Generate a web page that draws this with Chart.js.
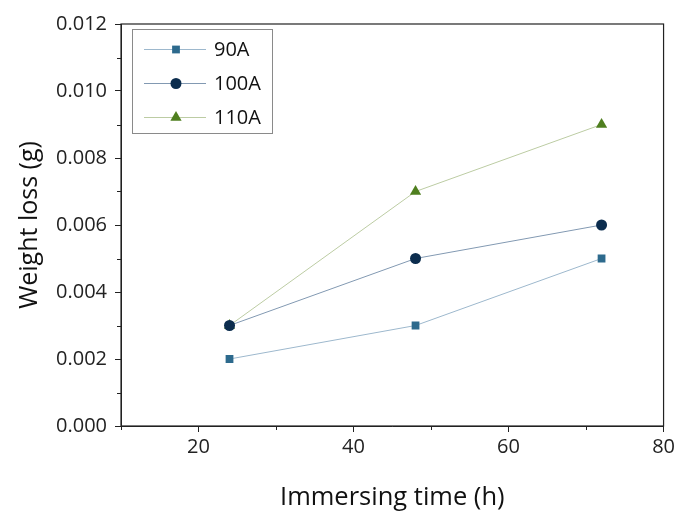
<!DOCTYPE html>
<html lang="en">
<head>
  <meta charset="UTF-8">
  <title>Weight loss vs immersing time</title>
  <script src="https://cdn.jsdelivr.net/npm/chart.js"></script>
  <style>
    html, body { margin: 0; padding: 0; background: #fff; }
    #wrap { width: 678px; height: 513px; }
  </style>
</head>
<body>
  <div id="wrap"><canvas id="grafico" width="678" height="513"></canvas></div>

  <script>
    // dados
    const tempo = [24, 48, 72];
    const perda90A = [0.002, 0.003, 0.005];
    const perda100A = [0.003, 0.005, 0.006];
    const perda110A = [0.003, 0.007, 0.009];
    const xMajor = [20, 40, 60, 80];
    const xMinor = [10, 30, 50, 70];
    const yMajor = [0, 0.002, 0.004, 0.006, 0.008, 0.010, 0.012];
    const yMinor = [0.001, 0.003, 0.005, 0.007, 0.009, 0.011];

    const fonte = "'Open Sans', 'Noto Sans', sans-serif";

    function pontos(ys) {
      return tempo.map((t, i) => ({ x: t, y: ys[i] }));
    }

    const series = [
      { label: '90A', data: perda90A, line: '#9db8cd', mark: '#2d6a8d', style: 'rect', r: 5.5 },
      { label: '100A', data: perda100A, line: '#8299b2', mark: '#0c2d4e', style: 'circle', r: 5.5 },
      { label: '110A', data: perda110A, line: '#bccca3', mark: '#4f7f1f', style: 'triangle', r: 6.5 }
    ];

    // moldura + ticks menores
    const molduraPlugin = {
      id: 'moldura',
      afterDraw(chart) {
        const { ctx, chartArea: a, scales } = chart;
        ctx.save();
        ctx.strokeStyle = '#222';
        ctx.lineWidth = 1.2;
        ctx.strokeRect(a.left, a.top, a.right - a.left, a.bottom - a.top);
        ctx.lineWidth = 1;
        ctx.beginPath();
        xMinor.forEach(v => {
          const px = Math.round(scales.x.getPixelForValue(v)) + 0.5;
          ctx.moveTo(px, a.bottom);
          ctx.lineTo(px, a.bottom + 4);
        });
        yMinor.forEach(v => {
          const py = Math.round(scales.y.getPixelForValue(v)) + 0.5;
          ctx.moveTo(a.left, py);
          ctx.lineTo(a.left - 4, py);
        });
        ctx.stroke();
        ctx.restore();
      }
    };

    // legenda dentro da área do gráfico
    const legendaPlugin = {
      id: 'legendaInterna',
      afterDraw(chart) {
        const { ctx, chartArea: a } = chart;
        const x0 = a.left + 11, y0 = a.top + 5, w = 140, h = 104;
        ctx.save();
        ctx.strokeStyle = '#8a8a8a';
        ctx.lineWidth = 1;
        ctx.strokeRect(x0 + 0.5, y0 + 0.5, w, h);
        ctx.font = '20px ' + fonte;
        ctx.textBaseline = 'middle';
        chart.data.datasets.forEach((ds, i) => {
          const cy = y0 + 20.5 + i * 34;
          ctx.strokeStyle = ds.borderColor;
          ctx.lineWidth = 1;
          ctx.beginPath();
          ctx.moveTo(x0 + 12, cy);
          ctx.lineTo(x0 + 74, cy);
          ctx.stroke();
          ctx.fillStyle = ds.pointBackgroundColor;
          ctx.strokeStyle = ds.pointBackgroundColor;
          Chart.helpers.drawPoint(ctx, {
            pointStyle: ds.pointStyle,
            radius: ds.pointRadius,
            borderWidth: 0,
            rotation: 0
          }, x0 + 44, cy);
          ctx.fillStyle = '#111';
          ctx.fillText(ds.label, x0 + 82, cy + 1);
        });
        ctx.restore();
      }
    };

    new Chart(document.getElementById('grafico'), {
      type: 'line',
      data: {
        datasets: series.map(s => ({
          label: s.label,
          data: pontos(s.data),
          borderColor: s.line,
          borderWidth: 1,
          backgroundColor: s.mark,
          pointBackgroundColor: s.mark,
          pointBorderColor: s.mark,
          pointBorderWidth: 0,
          pointStyle: s.style,
          pointRadius: s.r,
          tension: 0
        }))
      },
      options: {
        responsive: false,
        animation: false,
        layout: { padding: { top: 24, right: 12, left: 0, bottom: 0 } },
        plugins: { legend: { display: false }, tooltip: { enabled: false } },
        scales: {
          x: {
            type: 'linear',
            min: 10,
            max: 80,
            afterBuildTicks: s => { s.ticks = xMajor.map(v => ({ value: v })); },
            afterFit: s => { s.height = 87; },
            grid: { display: true, drawOnChartArea: false, drawTicks: true, tickLength: 6, color: '#222' },
            border: { display: true, color: '#222', width: 1 },
            ticks: { color: '#222', font: { family: fonte, size: 20 }, padding: 3 },
            title: {
              display: true,
              text: 'Immersing time (h)',
              color: '#111',
              font: { family: fonte, size: 25.5 },
              padding: { top: 0, bottom: 0 }
            }
          },
          y: {
            type: 'linear',
            min: 0,
            max: 0.012,
            afterBuildTicks: s => { s.ticks = yMajor.map(v => ({ value: v })); },
            afterFit: s => { s.width = 121; },
            grid: { display: true, drawOnChartArea: false, drawTicks: true, tickLength: 6, color: '#222' },
            border: { display: true, color: '#222', width: 1 },
            ticks: {
              color: '#222',
              font: { family: fonte, size: 20 },
              padding: 8,
              callback: v => v.toFixed(3)
            },
            title: {
              display: true,
              text: 'Weight loss (g)',
              color: '#111',
              font: { family: fonte, size: 25 },
              padding: { top: 15, bottom: 0 }
            }
          }
        }
      },
      plugins: [molduraPlugin, legendaPlugin]
    });
  </script>
</body>
</html>
